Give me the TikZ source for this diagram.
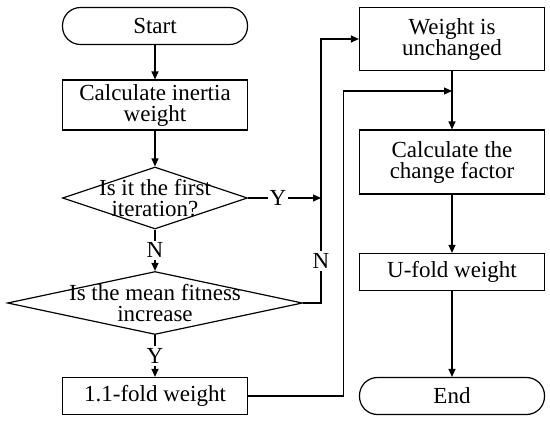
\documentclass[tikz,border=0pt]{standalone}
\usepackage{fontspec}
\setmainfont{Liberation Serif}
\usetikzlibrary{shapes.geometric,arrows.meta}

\tikzset{
  box/.style={draw,line width=1.2pt,minimum width=185pt,inner sep=0pt,align=center},
  term/.style={box,rounded corners=18pt,minimum height=37pt},
  decision/.style={draw,diamond,line width=1.2pt,inner sep=0pt},
  flow/.style={line width=1.2pt},
  arr/.style={flow,-{Triangle[length=8pt,width=7pt]}},
  lbl/.style={fill=white,inner sep=2pt}
}

\begin{document}
\begin{tikzpicture}[x=1pt,y=-1pt,font=\fontsize{23}{21}\selectfont]
\useasboundingbox (0,0) rectangle (550,421);

% left column
\node[term] (start) at (155,26) {Start};
\node[box,minimum height=50pt] (inertia) at (155,105) {Calculate inertia\\weight};
\node[decision,minimum width=185pt,minimum height=62pt,
      label={[align=center]center:Is it the first\\iteration?}] (first) at (155,198) {};
\node[decision,minimum width=295pt,minimum height=63pt,
      label={[align=center]center:Is the mean fitness\\increase}] (mean) at (155,303) {};
\node[box,minimum height=37pt] (fold) at (155,396) {1.1-fold weight};

% right column
\node[box,minimum height=63pt] (keep) at (452,39) {Weight is\\unchanged};
\node[box,minimum height=64pt] (factor) at (452,162) {Calculate the\\change factor};
\node[box,minimum height=37pt] (ufold) at (452,272) {U-fold weight};
\node[term] (end) at (452,396) {End};

\coordinate (join) at (321,198);
\coordinate (merge) at (452,91);

\draw[arr] (start) -- (inertia);
\draw[arr] (inertia) -- (first);
\draw[arr] (first) -- node[lbl]{N} (mean);
\draw[arr] (mean) -- node[lbl]{Y} (fold);

\draw[arr] (first.east) -- node[lbl,pos=0.41]{Y} (join);
\draw[flow] (mean.east) -| node[lbl,pos=0.7]{N} (join);
\draw[arr] (join) |- (keep.west);

\draw[arr] (fold.east) -- ++(95,0) |- (merge);
\draw[arr] (keep) -- (factor);
\draw[arr] (factor) -- (ufold);
\draw[arr] (ufold) -- (end);
\end{tikzpicture}
\end{document}
